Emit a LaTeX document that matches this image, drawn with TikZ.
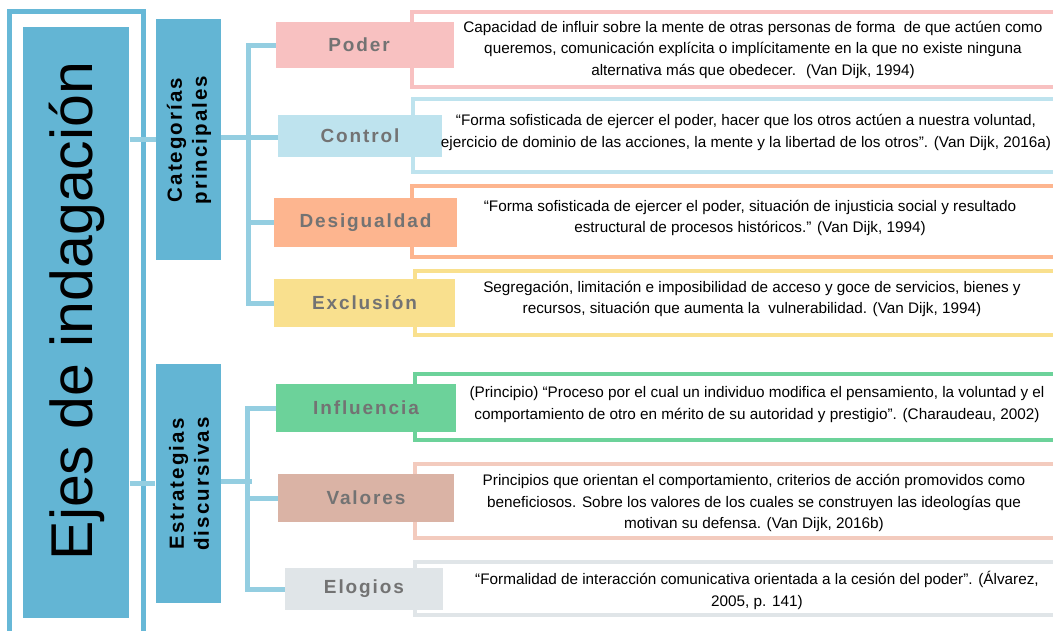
\documentclass[tikz,border=0pt]{standalone}
\usepackage{fontspec}
\setmainfont{Liberation Sans}
\newfontfamily\lblfont[LetterSpace=10]{Liberation Sans}
\newfontfamily\catfont[LetterSpace=10]{Liberation Sans}
\definecolor{innerblue}{HTML}{63B5D4}
\definecolor{frameblue}{HTML}{67B8D7}
\definecolor{connblue}{HTML}{94CEE1}
\definecolor{poderc}{HTML}{F8C1C1}
\definecolor{controlc}{HTML}{BEE3EE}
\definecolor{desigc}{HTML}{FDB58F}
\definecolor{exclc}{HTML}{F9E08E}
\definecolor{inflc}{HTML}{6CD29A}
\definecolor{valc}{HTML}{DAB3A5}
\definecolor{valo}{HTML}{F3CBBE}
\definecolor{elogc}{HTML}{E0E5E8}
\definecolor{lblgray}{HTML}{737373}
\begin{document}
\begin{tikzpicture}[x=1pt,y=-1pt,
  conn/.style={draw=connblue,line width=5pt},
  lbl/.style={rectangle,inner sep=0pt,font=\lblfont\bfseries\fontsize{19}{22}\selectfont,text=lblgray},
  catbox/.style={rectangle,inner sep=0pt,fill=innerblue,minimum width=65,minimum height=240},
  cattext/.style={rotate=90,align=center,inner sep=0pt,font=\catfont\bfseries\fontsize{20.5}{25}\selectfont},
  desc/.style={align=center,inner sep=0pt,font=\fontsize{15.3}{21.5}\selectfont},
  outl/.style={line width=4pt}]
\clip (0,0) rectangle (1053,630);
% outer frame
\draw[frameblue,line width=4.7pt] (9.7,650) -- (9.7,11.7) -- (143.8,11.7) -- (143.8,650);
% inner main box
\node[fill=innerblue,inner sep=0pt,minimum width=106,minimum height=591] (ejes) at (76.3,322.5) {};
\node[rotate=90,anchor=base,inner sep=0pt,font=\fontsize{59}{60}\selectfont] (ejestext) at (92,311) {Ejes de indagación};
% category boxes
\node[catbox,minimum height=241] (cat) at (188.5,139.5) {};
\node[cattext] (cattx) at (189,140) {Categorías\\principales};
\node[catbox,minimum height=239] (est) at (188,483.5) {};
\node[cattext] (esttx) at (189,484) {Estrategias\\discursivas};
% description outlines
\draw[outl,poderc] (1060,11.7) -- (412,11.7) -- (412,87) -- (1060,87);
\draw[outl,controlc] (1060,99) -- (412.5,99) -- (412.5,172) -- (1060,172);
\draw[outl,desigc] (1060,186) -- (412,186) -- (412,257) -- (1060,257);
\draw[outl,exclc] (1060,271) -- (415,271) -- (415,335) -- (1060,335);
\draw[outl,inflc] (1060,374) -- (415,374) -- (415,440) -- (1060,440);
\draw[outl,valo] (1060,464) -- (415,464) -- (415,538) -- (1060,538);
\draw[outl,elogc] (1060,562) -- (415,562) -- (415,614.5) -- (1060,614.5);
% labels
\node[lbl,fill=poderc,minimum width=178,minimum height=46] (poder) at (365,45) {\hspace*{-12pt}Poder};
\node[lbl,fill=controlc,minimum width=164,minimum height=42] (control) at (360,136) {Control};
\node[lbl,fill=desigc,minimum width=183,minimum height=49] (desig) at (365.5,222.5) {Desigualdad};
\node[lbl,fill=exclc,minimum width=181,minimum height=48] (excl) at (364.5,303) {Exclusión};
\node[lbl,fill=inflc,minimum width=180,minimum height=48] (infl) at (366,408) {Influencia};
\node[lbl,fill=valc,minimum width=176,minimum height=48] (val) at (366,498) {Valores};
\node[lbl,fill=elogc,minimum width=158,minimum height=42] (elog) at (364,589) {Elogios};
% descriptions
\node[desc] (dpoder) at (753,49.5) {Capacidad de influir sobre la mente de otras personas de forma \ de que actúen como\\queremos, comunicación explícita o implícitamente en la que no existe ninguna\\alternativa más que obedecer. \ (Van Dijk, 1994)};
\node[desc] (dcontrol) at (746,132.5) {“Forma sofisticada de ejercer el poder, hacer que los otros actúen a nuestra voluntad,\\ejercicio de dominio de las acciones, la mente y la libertad de los otros”. (Van Dijk, 2016a)};
\node[desc] (ddesig) at (750,218) {“Forma sofisticada de ejercer el poder, situación de injusticia social y resultado\\estructural de procesos históricos.” (Van Dijk, 1994)};
\node[desc] (dexcl) at (752,299) {Segregación, limitación e imposibilidad de acceso y goce de servicios, bienes y\\recursos, situación que aumenta la \ vulnerabilidad. (Van Dijk, 1994)};
\node[desc] (dinfl) at (757,404.5) {(Principio) “Proceso por el cual un individuo modifica el pensamiento, la voluntad y el\\comportamiento de otro en mérito de su autoridad y prestigio”. (Charaudeau, 2002)};
\node[desc] (dval) at (754,503) {Principios que orientan el comportamiento, criterios de acción promovidos como\\beneficiosos. Sobre los valores de los cuales se construyen las ideologías que\\motivan su defensa. (Van Dijk, 2016b)};
\node[desc] (delog) at (757,590.5) {“Formalidad de interacción comunicativa orientada a la cesión del poder”. (Álvarez,\\2005, p. 141)};
% connectors
\coordinate (b1) at (248,137);
\coordinate (b2) at (247,481.5);
\draw[conn] (ejes.east |- cat.west) -- (cat.west);
\draw[conn] (ejes.east |- est.west) -- (est.west);
\draw[conn] (cat.east |- b1) -- (b1);
\draw[conn] (poder.west) -| (b1) |- (excl.west);
\draw[conn] (b1) -- (b1 -| control.west);
\draw[conn] (b1 |- desig.west) -- (desig.west);
\draw[conn] (est.east |- b2) -- ([xshift=5pt]b2);
\draw[conn] (infl.west) -| (b2) |- (elog.west);
\draw[conn] (b2 |- val.west) -- (val.west);
\end{tikzpicture}
\end{document}
